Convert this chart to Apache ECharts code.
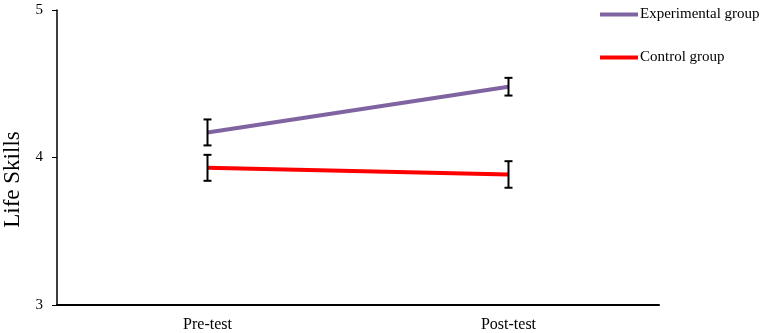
<!DOCTYPE html>
<html>
<head>
<meta charset="utf-8">
<script src="https://cdn.jsdelivr.net/npm/echarts@6/dist/echarts.min.js"></script>
<style>
  html, body { margin: 0; padding: 0; background: #fff; }
  #chart { width: 767px; height: 333px; }
</style>
</head>
<body>
<div id="chart"></div>
<script>
// datos
var phases = ['Pre-test', 'Post-test'];
var expMeans = [4.17, 4.48];
var expErr = [0.088, 0.06];
var ctrlMeans = [3.93, 3.885];
var ctrlErr = [0.088, 0.09];
var yTicks = [3, 4, 5];

var myChart = echarts.init(document.getElementById('chart'));

function errData(means, errs) {
  return means.map(function (m, i) {
    return [i, m - errs[i], m + errs[i]];
  });
}

function renderErr(params, api) {
  var lo = api.coord([api.value(0), api.value(1)]);
  var hi = api.coord([api.value(0), api.value(2)]);
  var w = 4;
  var st = { stroke: '#000', lineWidth: 2 };
  return {
    type: 'group',
    children: [
      { type: 'line', shape: { x1: lo[0], y1: lo[1], x2: hi[0], y2: hi[1] }, style: st },
      { type: 'line', shape: { x1: hi[0] - w, y1: hi[1], x2: hi[0] + w, y2: hi[1] }, style: st },
      { type: 'line', shape: { x1: lo[0] - w, y1: lo[1], x2: lo[0] + w, y2: lo[1] }, style: st }
    ]
  };
}

var font = '"Liberation Serif", "Times New Roman", serif';

var option = {
  animation: false,
  textStyle: { fontFamily: font },
  grid: { left: 57, top: 10, right: 108, bottom: 28, containLabel: false, outerBoundsMode: 'none' },
  legend: {
    orient: 'vertical',
    left: 595,
    top: 2,
    itemGap: 28,
    itemWidth: 38,
    itemHeight: 4,
    textStyle: { fontFamily: font, fontSize: 15, color: '#000', padding: [0, 0, 0, -3] },
    data: [
      { name: 'Experimental group', icon: 'rect' },
      { name: 'Control group', icon: 'rect' }
    ]
  },
  xAxis: {
    type: 'category',
    data: phases,
    boundaryGap: true,
    axisLine: { lineStyle: { color: '#000', width: 2 } },
    axisTick: { show: false },
    axisLabel: { color: '#000', fontSize: 16, fontFamily: font, margin: 12 }
  },
  yAxis: {
    type: 'value',
    min: yTicks[0],
    max: yTicks[yTicks.length - 1],
    interval: 1,
    name: 'Life Skills',
    nameLocation: 'middle',
    nameGap: 32,
    nameTextStyle: { color: '#000', fontSize: 23, fontFamily: font, padding: [0, 44, 0, 0] },
    splitLine: { show: false },
    axisLine: { show: true, lineStyle: { color: '#000', width: 1.5 } },
    axisTick: { show: true, length: 5, lineStyle: { color: '#000' } },
    axisLabel: { color: '#000', fontSize: 15, fontFamily: font, margin: 14 }
  },
  series: [
    {
      name: 'Experimental group',
      type: 'line',
      data: expMeans,
      symbol: 'none',
      itemStyle: { color: '#8064A2' },
      lineStyle: { color: '#8064A2', width: 4 }
    },
    {
      name: 'Control group',
      type: 'line',
      data: ctrlMeans,
      symbol: 'none',
      itemStyle: { color: '#FF0000' },
      lineStyle: { color: '#FF0000', width: 4 }
    },
    {
      type: 'custom',
      renderItem: renderErr,
      data: errData(expMeans, expErr),
      z: 5
    },
    {
      type: 'custom',
      renderItem: renderErr,
      data: errData(ctrlMeans, ctrlErr),
      z: 5
    }
  ]
};

// Renderizar el grafico
myChart.setOption(option);
</script>
</body>
</html>
